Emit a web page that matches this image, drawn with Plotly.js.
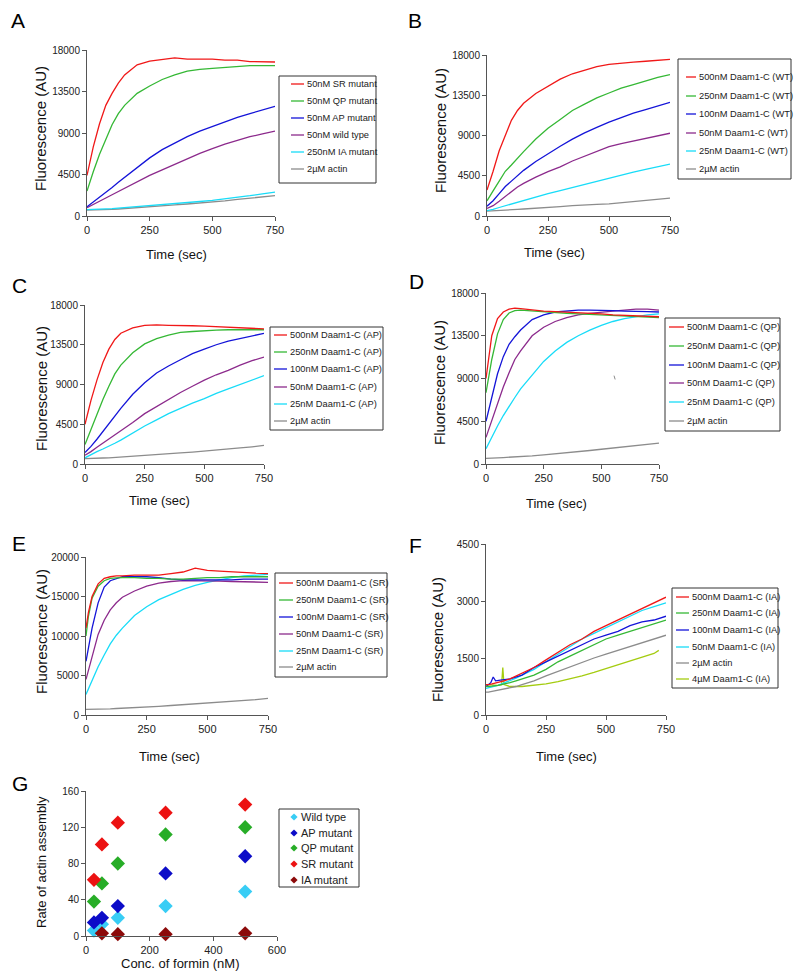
<!DOCTYPE html>
<html><head><meta charset="utf-8">
<script src="https://cdn.plot.ly/plotly-3.0.1.min.js"></script>
<style>html,body{margin:0;padding:0;background:#fff}#chart{width:800px;height:977px}</style>
</head><body><div id="chart"></div>
<script>
// ---------- DATA ----------
const T = [0,10,25,50,75,100,125,150,200,250,300,350,400,450,500,550,600,650,700,750];

// Panel A
const A_names = ["50nM SR mutant","50nM QP mutant","50nM AP mutant","50nM wild type","250nM IA mutant","2µM actin"];
const A_SR = [4400,5700,7500,10000,12000,13300,14400,15300,16400,16800,17000,17150,17000,17000,17000,16900,16900,16750,16750,16700];
const A_QP = [2700,3600,4800,6700,8400,9900,11100,12000,13300,14100,14800,15300,15700,15900,16000,16100,16200,16300,16300,16300];
const A_AP = [1000,1200,1500,2000,2550,3100,3650,4200,5300,6300,7200,7900,8600,9200,9700,10200,10700,11100,11500,11900];
const A_WT = [900,1050,1250,1600,1950,2300,2650,3000,3700,4400,5000,5600,6200,6800,7300,7800,8200,8600,8900,9200];
const A_IA = [700,700,720,750,780,800,850,900,1000,1100,1200,1320,1450,1570,1700,1850,2000,2200,2400,2600];
const A_actin = [650,650,660,680,700,720,760,800,900,1000,1100,1200,1300,1400,1500,1650,1800,1950,2100,2200];

// Panel B
const B_names = ["500nM Daam1-C (WT)","250nM Daam1-C (WT)","100nM Daam1-C (WT)","50nM Daam1-C (WT)","25nM Daam1-C (WT)","2µM actin"];
const B_500 = [2900,3700,5000,7300,9100,10700,11800,12600,13700,14500,15300,15900,16300,16700,16950,17100,17200,17300,17400,17500];
const B_250 = [1700,2100,2800,3900,5000,5700,6500,7200,8600,9800,10800,11800,12500,13200,13750,14300,14700,15100,15500,15800];
const B_100 = [1100,1350,1700,2500,3300,3900,4500,5100,6100,7000,7800,8600,9300,9900,10500,11000,11500,11900,12300,12700];
const B_50 = [850,950,1150,1650,2200,2800,3250,3650,4350,4950,5500,6150,6700,7200,7750,8100,8400,8700,9000,9250];
const B_25 = [600,650,750,950,1150,1300,1500,1700,2100,2500,2850,3200,3550,3900,4200,4550,4900,5200,5500,5800];
const B_actin = [550,560,570,600,640,700,740,780,850,950,1050,1150,1250,1300,1350,1480,1600,1720,1850,2000];

// Panel C
const C_names = ["500nM Daam1-C (AP)","250nM Daam1-C (AP)","100nM Daam1-C (AP)","50nM Daam1-C (AP)","25nM Daam1-C (AP)","2µM actin"];
const C_500 = [4500,5600,7200,9500,11500,13000,14100,14800,15400,15700,15750,15700,15700,15650,15600,15550,15500,15450,15400,15300];
const C_250 = [2200,2900,4000,5700,7300,8800,10200,11200,12600,13600,14200,14600,14900,15000,15100,15150,15200,15200,15200,15200];
const C_100 = [1300,1550,2000,2800,3700,4600,5450,6300,7900,9200,10300,11100,11800,12500,13000,13500,13900,14200,14500,14800];
const C_50 = [1000,1150,1400,1900,2350,2800,3250,3700,4700,5700,6500,7300,8100,8800,9500,10100,10600,11200,11700,12100];
const C_25 = [700,850,1000,1400,1700,2000,2350,2700,3500,4300,5000,5700,6300,6900,7400,8000,8500,9000,9500,10000];
const C_actin = [600,600,620,650,680,700,740,780,850,950,1050,1150,1250,1350,1450,1580,1700,1820,1950,2100];

// Panel D
const D_names = ["500nM Daam1-C (QP)","250nM Daam1-C (QP)","100nM Daam1-C (QP)","50nM Daam1-C (QP)","25nM Daam1-C (QP)","2µM actin"];
const D_500 = [9000,11000,13500,15300,16000,16300,16400,16350,16200,16100,16050,16000,15950,15900,15800,15700,15650,15600,15550,15500];
const D_250 = [7500,9000,11000,13700,15200,15900,16150,16200,16100,16000,15900,15850,15800,15750,15700,15650,15600,15500,15450,15400];
const D_100 = [4500,5500,7000,9500,11300,12600,13400,14100,15200,15700,16000,16100,16200,16200,16200,16150,16100,16100,16050,16000];
const D_50 = [2800,3500,4700,6500,8100,9600,11000,11900,13500,14400,15000,15400,15700,15850,16000,16100,16200,16300,16300,16200];
const D_25 = [1600,2100,2800,4000,5100,6100,7000,7900,9400,10800,11900,12800,13500,14100,14600,15000,15300,15500,15700,15800];
const D_actin = [600,600,620,650,680,700,740,780,850,950,1050,1180,1300,1420,1550,1680,1800,1920,2050,2200];
const D_markT = [555,560];
const D_markY = [9300,8900];

// Panel E
const E_names = ["500nM Daam1-C (SR)","250nM Daam1-C (SR)","100nM Daam1-C (SR)","50nM Daam1-C (SR)","25nM Daam1-C (SR)","2µM actin"];
const E_500 = [11000,13000,15000,16600,17300,17500,17600,17600,17700,17700,17700,17900,18100,18600,18300,18200,18100,18000,17950,17900];
const E_250 = [10000,12500,14800,16300,17000,17300,17350,17400,17400,17300,17300,17200,17200,17300,17400,17400,17500,17500,17500,17500];
const E_100 = [6800,8500,11000,14200,16200,17000,17300,17500,17500,17500,17400,17200,17100,17100,17100,17100,17100,17200,17200,17200];
const E_50 = [4500,5700,7500,10200,12000,13300,14200,14900,15700,16300,16700,16900,17000,17000,17000,16950,16900,16850,16800,16800];
const E_25 = [2600,3300,4400,6100,7600,9000,10100,11000,12600,13700,14600,15300,15900,16400,16800,17100,17400,17600,17700,17800];
const E_actin = [700,700,720,740,760,780,820,850,900,1000,1100,1200,1300,1400,1500,1600,1700,1820,1950,2100];

// Panel F
const F_names = ["500nM Daam1-C (IA)","250nM Daam1-C (IA)","100nM Daam1-C (IA)","50nM Daam1-C (IA)","2µM actin","4µM Daam1-C (IA)"];
const F_500 = [800,800,820,850,900,950,1020,1100,1250,1450,1650,1850,2000,2200,2350,2500,2650,2800,2950,3100];
const F_250 = [750,750,760,780,810,850,900,950,1050,1200,1400,1550,1700,1850,2000,2100,2200,2300,2400,2500];
const F_100T = [0,10,20,30,40,60,100,150,200,250,300,350,400,450,500,550,600,650,700,750];
const F_100 = [750,800,850,1000,900,920,950,1050,1250,1400,1550,1700,1850,2000,2100,2200,2350,2450,2500,2600];
const F_50 = [700,710,740,780,840,900,970,1050,1200,1400,1600,1800,2000,2150,2300,2450,2600,2750,2850,2950];
const F_actin = [600,600,620,650,680,700,750,800,900,1030,1150,1280,1400,1500,1600,1700,1800,1900,2000,2100];
const F_4uMT = [0,25,50,65,70,75,100,150,200,250,300,350,400,450,500,550,600,650,700,720];
const F_4uM = [800,790,780,800,1250,800,750,750,780,820,880,950,1030,1120,1220,1320,1420,1520,1620,1700];

// Panel G
const G_names = ["Wild type","AP mutant","QP mutant","SR mutant","IA mutant"];
const G_conc = [25,50,100,250,500];
const G_WT = [6,13,20,33,49];
const G_AP = [15,20,33,69,88];
const G_QP = [38,58,80,112,120];
const G_SR = [62,101,125,136,145];
const G_IAconc = [50,100,250,500];
const G_IA = [3,2,2,3];

// ---------- STYLE ----------
const W = 800, H = 977;
const FONT = "Arial, 'Liberation Sans', sans-serif";
const RED='#f01818', GREEN='#35b835', BLUE='#1414d8', PURPLE='#8c2a8c', CYAN='#18dcf8', GRAY='#8c8c8c', YG='#a4cc10';
const sixColors = [RED, GREEN, BLUE, PURPLE, CYAN, GRAY];
const fColors = [RED, GREEN, BLUE, CYAN, GRAY, YG];
const gColors = ['#38cdf5','#0c0cc8','#27ad27','#ec1212','#8c0a0a'];

const px = v => v / W;
const py = v => 1 - v / H;

const traces = [];
const layout = {
  width: W, height: H, margin: {l:0, r:0, t:0, b:0},
  paper_bgcolor: '#fff', plot_bgcolor: '#fff', showlegend: false,
  font: {family: FONT, color: '#222'},
  shapes: [], annotations: []
};

function axisPair(n, xd, yd, xr, xdt, yr, ydt) {
  const sfx = n === 1 ? '' : String(n);
  const common = {showline:true, linecolor:'#555', linewidth:1, ticks:'outside', ticklen:4,
    tickcolor:'#555', showgrid:false, zeroline:false, fixedrange:true, tickformat:'d'};
  layout['xaxis'+sfx] = Object.assign({}, common, {domain:[px(xd[0]), px(xd[1])], range:xr, dtick:xdt, tick0:0,
    anchor:'y'+sfx, tickfont:{family:FONT, size:11, color:'#222'}});
  layout['yaxis'+sfx] = Object.assign({}, common, {domain:[py(yd[1]), py(yd[0])], range:yr, dtick:ydt, tick0:0,
    anchor:'x'+sfx, tickfont:{family:FONT, size:10, color:'#222'}});
  return {xaxis:'x'+sfx, yaxis:'y'+sfx};
}

function addLines(ax, names, xs, ys, colors) {
  for (let i = names.length - 1; i >= 0; i--) {
    traces.push({type:'scatter', mode:'lines', name:names[i], x:xs[i], y:ys[i],
      line:{color:colors[i], width:1.3}, xaxis:ax.xaxis, yaxis:ax.yaxis, hoverinfo:'skip'});
  }
}

function ann(text, x, y, o) {
  layout.annotations.push(Object.assign({text, x:px(x), y:py(y), xref:'paper', yref:'paper',
    showarrow:false, xanchor:'center', yanchor:'middle', font:{family:FONT, size:13, color:'#111'}}, o||{}));
}

function lineLegend(names, colors, box, itemsY, lx0, lx1, tx) {
  layout.shapes.push({type:'rect', xref:'paper', yref:'paper', x0:px(box[0]), x1:px(box[1]),
    y0:py(box[3]), y1:py(box[2]), line:{color:'#333', width:1}, fillcolor:'rgba(255,255,255,0)'});
  names.forEach((nm, i) => {
    layout.shapes.push({type:'line', xref:'paper', yref:'paper', x0:px(lx0), x1:px(lx1),
      y0:py(itemsY[i]), y1:py(itemsY[i]), line:{color:colors[i], width:1.3}});
    ann(nm, tx, itemsY[i], {xanchor:'left', font:{family:FONT, size:9.3, color:'#222'}});
  });
}

function panelText(letter, lx, ly, xt, yt) {
  ann(letter, lx, ly, {xanchor:'left', font:{family:FONT, size:21, color:'#000'}});
  ann(xt[0], xt[1], xt[2], {font:{family:FONT, size:13, color:'#111'}});
  ann(yt[0], yt[1], yt[2], {textangle:-90, font:{family:FONT, size:yt[3]||15, color:'#111'}});
}

// Panel A
let ax = axisPair(1, [87,275], [50,216], [0,750], 250, [0,18000], 4500);
addLines(ax, A_names, [T,T,T,T,T,T], [A_SR,A_QP,A_AP,A_WT,A_IA,A_actin], sixColors);
panelText('A', 9, 21, ['Time (sec)', 176, 254], ['Fluorescence (AU)', 40, 129]);
lineLegend(A_names, sixColors, [279,376,76,183], [84,101,118,135,152,169], 291, 304, 305);

// Panel B
ax = axisPair(2, [487,670], [55,216], [0,750], 250, [0,18000], 4500);
addLines(ax, B_names, [T,T,T,T,T,T], [B_500,B_250,B_100,B_50,B_25,B_actin], sixColors);
panelText('B', 406, 21, ['Time (sec)', 554, 253], ['Fluorescence (AU)', 440, 131]);
lineLegend(B_names, sixColors, [678,791,59,179], [77,96,114,133,151,169], 686, 696, 697);

// Panel C
ax = axisPair(3, [85,264], [305,464], [0,750], 250, [0,18000], 4500);
addLines(ax, C_names, [T,T,T,T,T,T], [C_500,C_250,C_100,C_50,C_25,C_actin], sixColors);
panelText('C', 10, 285, ['Time (sec)', 159, 500], ['Fluorescence (AU)', 41, 389]);
lineLegend(C_names, sixColors, [270,383,327,430], [335,352,369,387,404,421], 274, 287, 288);

// Panel D
ax = axisPair(4, [486,659], [293,464], [0,750], 250, [0,18000], 4500);
addLines(ax, D_names, [T,T,T,T,T,T], [D_500,D_250,D_100,D_50,D_25,D_actin], sixColors);
traces.push({type:'scatter', mode:'lines', name:'', x:D_markT, y:D_markY, line:{color:GRAY, width:1},
  xaxis:ax.xaxis, yaxis:ax.yaxis, hoverinfo:'skip'});
panelText('D', 407, 281, ['Time (sec)', 556, 503], ['Fluorescence (AU)', 439, 382]);
lineLegend(D_names, sixColors, [665,780,318,431], [327,346,365,383,402,421], 669, 684, 685);

// Panel E
ax = axisPair(5, [86,268], [557,715], [0,750], 250, [0,20000], 5000);
addLines(ax, E_names, [T,T,T,T,T,T], [E_500,E_250,E_100,E_50,E_25,E_actin], sixColors);
panelText('E', 10, 543, ['Time (sec)', 169, 756], ['Fluorescence (AU)', 41, 632]);
lineLegend(E_names, sixColors, [275,387,573,677], [583,600,617,634,651,667], 279, 293, 294);

// Panel F
ax = axisPair(6, [486,666], [544,715], [0,750], 250, [0,4500], 1500);
addLines(ax, F_names, [T,T,F_100T,T,T,F_4uMT], [F_500,F_250,F_100,F_50,F_actin,F_4uM], fColors);
panelText('F', 407, 545, ['Time (sec)', 566, 756], ['Fluorescence (AU)', 437, 640]);
lineLegend(F_names, fColors, [672,778,588,688], [597,613,630,647,663,679], 676, 689, 690);

// Panel G
ax = axisPair(7, [86,277], [791,936], [0,600], 200, [0,160], 40);
const gX = [G_conc,G_conc,G_conc,G_conc,G_IAconc];
const gY = [G_WT,G_AP,G_QP,G_SR,G_IA];
G_names.forEach((nm, i) => {
  traces.push({type:'scatter', mode:'markers', name:nm, x:gX[i], y:gY[i], cliponaxis:false,
    marker:{symbol:'diamond', size:11, color:gColors[i], line:{width:0}},
    xaxis:ax.xaxis, yaxis:ax.yaxis, hoverinfo:'skip'});
});
panelText('G', 10, 783, ['Conc. of formin (nM)', 180, 963], ['Rate of actin assembly', 41, 862, 13]);
layout.shapes.push({type:'rect', xref:'paper', yref:'paper', x0:px(279), x1:px(359), y0:py(887), y1:py(809),
  line:{color:'#333', width:1}, fillcolor:'rgba(255,255,255,0)'});
const gItems = [817,833,848,864,880];
G_names.forEach((nm, i) => {
  const cx = 294, cy = gItems[i], r = 3.6;
  layout.shapes.push({type:'path', xref:'paper', yref:'paper',
    path:`M ${px(cx)},${py(cy-r)} L ${px(cx+r)},${py(cy)} L ${px(cx)},${py(cy+r)} L ${px(cx-r)},${py(cy)} Z`,
    fillcolor:gColors[i], line:{width:0}});
  ann(nm, 298.5, cy, {xanchor:'left', font:{family:FONT, size:11, color:'#222'}});
});

Plotly.newPlot('chart', traces, layout, {staticPlot:true, displayModeBar:false});
</script></body></html>
